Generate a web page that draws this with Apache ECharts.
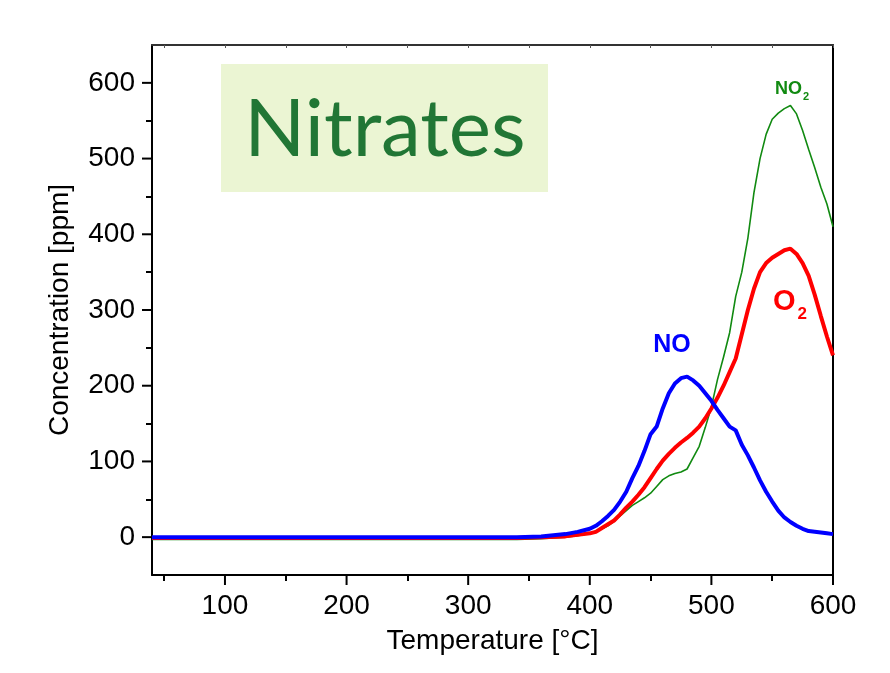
<!DOCTYPE html>
<html>
<head>
<meta charset="utf-8">
<script src="https://cdn.jsdelivr.net/npm/echarts@6/dist/echarts.min.js"></script>
<style>
html, body { margin: 0; padding: 0; background: #fff; }
#chart { width: 890px; height: 673px; }
</style>
</head>
<body>
<div id="chart"></div>
<script>
// temperatures [°C], shared by all three traces
var temps = [40, 60, 80, 100, 120, 140, 160, 180, 200, 220, 240, 260, 280, 300, 320, 340, 360, 380, 390,
    400, 405, 410, 415, 420, 425, 430, 435, 440, 445, 450, 455, 460, 465, 470, 475, 480, 485, 490, 495,
    500, 505, 510, 515, 520, 525, 530, 535, 540, 545, 550, 555, 560, 565, 570, 575, 580, 585, 590, 595, 600];

// NO (blue)
var noVals = [0, 0, 0, 0, 0, 0, 0, 0, 0, 0, 0, 0, 0, 0, 0, 0, 1, 4, 7,
    11, 15, 21, 28, 36, 47, 60, 78, 94, 114, 136, 146, 170, 190, 203, 210, 212, 207, 200, 190,
    180, 168, 157, 146, 141, 122, 108, 92, 75, 60, 47, 35, 26, 20, 15, 11, 8, 7, 6, 5, 4];

// O2 (red)
var o2Vals = [-1, -1, -1, -1, -1, -1, -1, -1, -1, -1, -1, -1, -1, -1, -1, -1, 0, 1, 3,
    5, 7, 12, 17, 22, 30, 39, 47, 56, 66, 78, 90, 101, 110, 118, 125, 131, 138, 146, 157,
    170, 184, 200, 218, 236, 268, 300, 328, 350, 362, 369, 374, 379, 381, 374, 362, 345, 320, 292, 265, 240];

// NO2 (green)
var no2Vals = [-3, -3, -3, -3, -3, -3, -3, -3, -3, -3, -3, -3, -3, -3, -3, -3, -2, 0, 2,
    5, 8, 11, 15, 21, 28, 35, 42, 47, 52, 58, 67, 76, 81, 84, 86, 90, 105, 120, 145,
    172, 208, 238, 270, 318, 350, 395, 455, 500, 532, 552, 560, 566, 570, 559, 537, 512, 488, 462, 440, 410];

var xMajor = [100, 200, 300, 400, 500, 600];
var xMinor = [50, 150, 250, 350, 450, 550];
var xAll = [50, 100, 150, 200, 250, 300, 350, 400, 450, 500, 550, 600];
var yMajor = [0, 100, 200, 300, 400, 500, 600];
var yMinor = [50, 150, 250, 350, 450, 550];

var X_MIN = 40, X_MAX = 600, Y_MIN = -50, Y_MAX = 650;

function pairs(vals) {
    return temps.map(function (t, i) { return [t, vals[i]]; });
}

var FONT = '"Liberation Sans", Arial, sans-serif';
var black = '#000';

// value axis that only draws ticks at the given values
function tickAxis(min, max, pos, values, len, inside, color, width) {
    return {
        type: 'value', min: min, max: max, position: pos,
        axisLine: { show: false, onZero: false },
        axisTick: { show: true, inside: inside, length: len, lineStyle: { color: color, width: width }, customValues: values },
        axisLabel: { show: false },
        splitLine: { show: false }
    };
}

// long ticks at the labelled values, drawn through the axis scales
function majorTicks(name, data, dx, dy) {
    return {
        name: name, type: 'custom', clip: false, silent: true, z: 6,
        data: data,
        renderItem: function (params, api) {
            var p = api.coord([api.value(0), api.value(1)]);
            return {
                type: 'line',
                shape: { x1: p[0], y1: p[1], x2: p[0] + dx, y2: p[1] + dy },
                style: { stroke: black, lineWidth: 2 }
            };
        }
    };
}

function hundreds(list) {
    return function (v) { return list.indexOf(v) >= 0 ? String(v) : ''; };
}

var chart = echarts.init(document.getElementById('chart'));

var option = {
    animation: false,
    backgroundColor: '#fff',
    grid: { left: 152, right: 57, top: 45, bottom: 98 },
    xAxis: [
        {
            type: 'value', min: X_MIN, max: X_MAX, interval: 20, position: 'bottom',
            name: 'Temperature [°C]', nameLocation: 'middle', nameGap: 52,
            nameTextStyle: { fontFamily: FONT, fontSize: 28, color: black },
            axisLine: { show: true, onZero: false, lineStyle: { color: black, width: 2 } },
            axisTick: { show: false },
            axisLabel: { fontFamily: FONT, fontSize: 28, color: black, margin: 17, formatter: hundreds(xMajor) },
            splitLine: { show: false }
        },
        tickAxis(X_MIN, X_MAX, 'bottom', xMinor, 6, false, black, 2),
        {
            // top frame
            type: 'value', min: X_MIN, max: X_MAX, position: 'top',
            axisLine: { show: true, onZero: false, lineStyle: { color: '#333', width: 2 } },
            axisTick: { show: false },
            axisLabel: { show: false },
            splitLine: { show: false }
        },
        tickAxis(X_MIN, X_MAX, 'top', xAll, 3, true, '#555', 1)
    ],
    yAxis: [
        {
            type: 'value', min: Y_MIN, max: Y_MAX, interval: 50, position: 'left',
            name: 'Concentration [ppm]', nameLocation: 'middle', nameGap: 78,
            nameTextStyle: { fontFamily: FONT, fontSize: 28, color: black },
            axisLine: { show: true, onZero: false, lineStyle: { color: black, width: 2 } },
            axisTick: { show: false },
            axisLabel: { fontFamily: FONT, fontSize: 28, color: black, margin: 17, formatter: hundreds(yMajor) },
            splitLine: { show: false }
        },
        tickAxis(Y_MIN, Y_MAX, 'left', yMinor, 6, false, black, 2),
        {
            // right frame
            type: 'value', min: Y_MIN, max: Y_MAX, position: 'right',
            axisLine: { show: true, onZero: false, lineStyle: { color: black, width: 2 } },
            axisTick: { show: false },
            axisLabel: { show: false },
            splitLine: { show: false }
        }
    ],
    series: [
        {
            name: 'NO2', type: 'line', showSymbol: false, z: 2,
            lineStyle: { color: '#118a11', width: 1.6 },
            data: pairs(no2Vals)
        },
        {
            name: 'O2', type: 'line', showSymbol: false, z: 3,
            lineStyle: { color: '#ff0000', width: 4 },
            data: pairs(o2Vals)
        },
        {
            name: 'NO', type: 'line', showSymbol: false, z: 4,
            lineStyle: { color: '#0000ff', width: 4 },
            data: pairs(noVals)
        },
        majorTicks('xTicks', xMajor.map(function (v) { return [v, Y_MIN]; }), 0, 10),
        majorTicks('yTicks', yMajor.map(function (v) { return [X_MIN, v]; }), -10, 0)
    ],
    graphic: [
        {
            type: 'rect', left: 221, top: 64, z: 1,
            shape: { width: 327, height: 128 },
            style: { fill: '#ebf5d3' }
        },
        {
            type: 'text', z: 2,
            style: {
                text: 'Nitrates', x: 385, y: 130, align: 'center', verticalAlign: 'middle',
                fontFamily: 'Lato, "Open Sans", sans-serif', fontSize: 80, fill: '#217635'
            }
        },
        {
            type: 'text', z: 5,
            style: {
                text: 'NO', x: 672, y: 345, align: 'center', verticalAlign: 'middle',
                fontFamily: FONT, fontSize: 25, fontWeight: 'bold', fill: '#0000ff'
            }
        },
        {
            type: 'text', z: 5,
            style: {
                text: '{a|O}{b|2}', x: 790, y: 302, align: 'center', verticalAlign: 'middle',
                rich: {
                    a: { fontFamily: FONT, fontSize: 29, fontWeight: 'bold', fill: '#ff0000', verticalAlign: 'bottom' },
                    b: { fontFamily: FONT, fontSize: 17, fontWeight: 'bold', fill: '#ff0000', verticalAlign: 'bottom', padding: [0, 0, -6, 2] }
                }
            }
        },
        {
            type: 'text', z: 5,
            style: {
                text: '{a|NO}{b|2}', x: 792, y: 89, align: 'center', verticalAlign: 'middle',
                rich: {
                    a: { fontFamily: FONT, fontSize: 18, fontWeight: 'bold', fill: '#118a11', verticalAlign: 'bottom' },
                    b: { fontFamily: FONT, fontSize: 11, fontWeight: 'bold', fill: '#118a11', verticalAlign: 'bottom', padding: [0, 0, -4, 1] }
                }
            }
        }
    ]
};

chart.setOption(option);
</script>
</body>
</html>
